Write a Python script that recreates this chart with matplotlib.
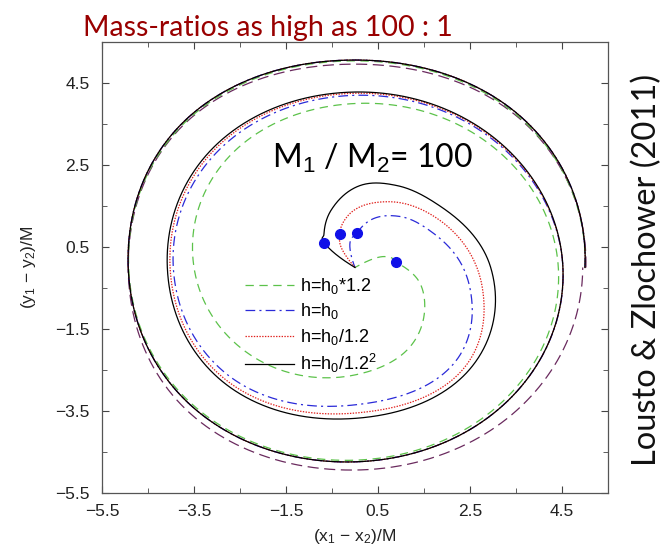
import numpy as np
import matplotlib.pyplot as plt

plt.rcParams['font.family'] = ['Liberation Sans', 'DejaVu Sans']
plt.rcParams['mathtext.fontset'] = 'custom'
plt.rcParams['mathtext.rm'] = 'Liberation Sans'
plt.rcParams['mathtext.it'] = 'Liberation Sans:italic'
plt.rcParams['lines.scale_dashes'] = False

# orbital phase (deg) and coordinate separation r/M along each puncture track
phase_h12 = [0, 45, 90, 135, 180, 225, 270, 315, 360, 405, 450, 495, 540, 585, 630, 660, 690, 705, 729, 738, 749, 753]
sep_h12 = [5.0, 5.12, 5.04, 5.12, 4.92, 4.86, 4.70, 4.58, 4.42, 4.20, 4.00, 3.85, 3.50, 3.10, 2.62, 2.30, 1.75, 1.46, 0.90, 0.80, 0.38, 0.0]

phase_h0 = [0, 45, 90, 135, 180, 225, 270, 315, 360, 405, 450, 495, 540, 585, 630, 675, 708, 720, 746, 772, 794, 807, 823, 830]
sep_h0 = [5.0, 5.15, 5.06, 5.15, 4.93, 4.90, 4.74, 4.65, 4.52, 4.33, 4.20, 4.12, 3.95, 3.80, 3.35, 3.15, 2.56, 2.35, 1.90, 1.58, 1.20, 0.85, 0.49, 0.0]

phase_h_12 = [0, 45, 90, 135, 180, 225, 270, 315, 360, 405, 450, 495, 540, 585, 630, 675, 710, 750, 785, 818, 832, 845, 848]
sep_h_12 = [5.0, 5.15, 5.06, 5.15, 4.93, 4.90, 4.74, 4.65, 4.52, 4.36, 4.25, 4.20, 4.02, 3.92, 3.55, 3.40, 2.81, 2.20, 1.77, 1.25, 0.88, 0.32, 0.0]

phase_h_144 = [0, 45, 90, 135, 180, 225, 270, 315, 360, 405, 450, 495, 540, 585, 630, 675, 720, 760, 785, 805, 830, 850, 858, 864, 866]
sep_h_144 = [5.0, 5.15, 5.06, 5.15, 4.93, 4.90, 4.74, 4.65, 4.52, 4.38, 4.28, 4.25, 4.08, 4.00, 3.68, 3.52, 2.95, 2.37, 2.20, 2.03, 1.50, 1.05, 0.90, 0.31, 0.0]

# single reference orbit (first revolution only)
phase_ref = [0, 45, 90, 135, 180, 225, 270, 315, 360]
sep_ref = [5.02, 5.10, 4.96, 5.10, 4.93, 5.05, 4.94, 4.95, 4.95]

# common-horizon formation on each track
horizon_phase = [729, 807, 832, 858]
horizon_sep = [0.90, 0.85, 0.88, 0.90]

labels = [r'h=h$_0$*1.2', r'h=h$_0$', r'h=h$_0$/1.2', r'h=h$_0$/1.2$^2$']
colors = ['#5cc24a', '#2a2ad8', '#e0201c', 'black']
styles = [(0, (6, 4)), (0, (7, 3, 1.5, 3)), (0, (1, 1)), '-']


def track(phase, sep):
    # cubic Hermite through the tabulated separations, then to x/y
    p = np.asarray(phase, float)
    s = np.asarray(sep, float)
    m = np.gradient(s, p)
    phi = np.arange(p[0], p[-1] + 0.25, 0.25)
    i = np.clip(np.searchsorted(p, phi, side='right') - 1, 0, len(p) - 2)
    h = p[i + 1] - p[i]
    u = (phi - p[i]) / h
    r = ((2 * u**3 - 3 * u**2 + 1) * s[i] + (u**3 - 2 * u**2 + u) * h * m[i]
         + (-2 * u**3 + 3 * u**2) * s[i + 1] + (u**3 - u**2) * h * m[i + 1])
    r = np.maximum(r, 0)
    t = np.radians(phi)
    return r * np.cos(t), r * np.sin(t)


fig = plt.figure(figsize=(6.71, 5.47), dpi=100)
ax = fig.add_axes([102 / 671, 1 - 493 / 547, 506 / 671, 451 / 547])

x, y = track(phase_ref, sep_ref)
ax.plot(x, y, color='#6a2a5e', lw=0.9, linestyle=(0, (8, 4)))

tracks = [(phase_h12, sep_h12), (phase_h0, sep_h0), (phase_h_12, sep_h_12), (phase_h_144, sep_h_144)]
for (ph, sp), c, ls, lab in zip(tracks, colors, styles, labels):
    x, y = track(ph, sp)
    ax.plot(x, y, color=c, lw=0.9, linestyle=ls, label=lab)

t = np.radians(horizon_phase)
ax.plot(np.array(horizon_sep) * np.cos(t), np.array(horizon_sep) * np.sin(t),
        'o', color='#1010e8', ms=7, zorder=5)

ax.set_xlim(-5.5, 5.5)
ax.set_ylim(-5.5, 5.5)
major = np.arange(-5.5, 5.0, 2.0)
minor = np.arange(-4.5, 6.0, 2.0)
ax.set_xticks(major)
ax.set_yticks(major)
ax.set_xticks(minor, minor=True)
ax.set_yticks(minor, minor=True)
ax.set_xticklabels([f'{v:.1f}'.replace('-', '\u2212') for v in major])
ax.set_yticklabels([f'{v:.1f}'.replace('-', '\u2212') for v in major])
ax.tick_params(which='both', direction='in', top=True, right=True, colors='#444444',
               labelcolor='#222222', labelsize=12.5)
ax.tick_params(which='major', length=5, pad=8)
ax.tick_params(which='minor', length=3.5)
ax.tick_params(axis='y', which='major', pad=9)
for s in ax.spines.values():
    s.set_color('#555555')
    s.set_linewidth(0.9)

ax.set_xlabel('(x$_1$ \u2212 x$_2$)/M', fontsize=12.5, color='#222222', labelpad=6)
ax.set_ylabel('(y$_1$ \u2212 y$_2$)/M', fontsize=12.5, color='#222222', labelpad=12)

ax.legend(loc='upper left', bbox_to_anchor=((245 - 102) / 506, (493 - 276) / 451),
          frameon=False, fontsize=13, handlelength=2.7, handletextpad=0.35,
          labelspacing=0.3, borderpad=0, borderaxespad=0)

fig.text(272 / 671, 1 - 168 / 547, 'M$_1$ / M$_2$= 100', fontsize=23,
         family=['Lato', 'DejaVu Sans'], color='black', va='baseline')

fig.text(83 / 671, 1 - 36 / 547, 'Mass-ratios as high as 100 : 1', fontsize=20.5,
         family=['Lato', 'DejaVu Sans'], color='#990000', va='baseline')
fig.text(647 / 671, 1 - 270 / 547, 'Lousto & Zlochower (2011)', fontsize=23.5,
         family=['Lato', 'DejaVu Sans'], color='#111111', rotation=90,
         ha='center', va='center')

fig.savefig('out.png', dpi=100)
